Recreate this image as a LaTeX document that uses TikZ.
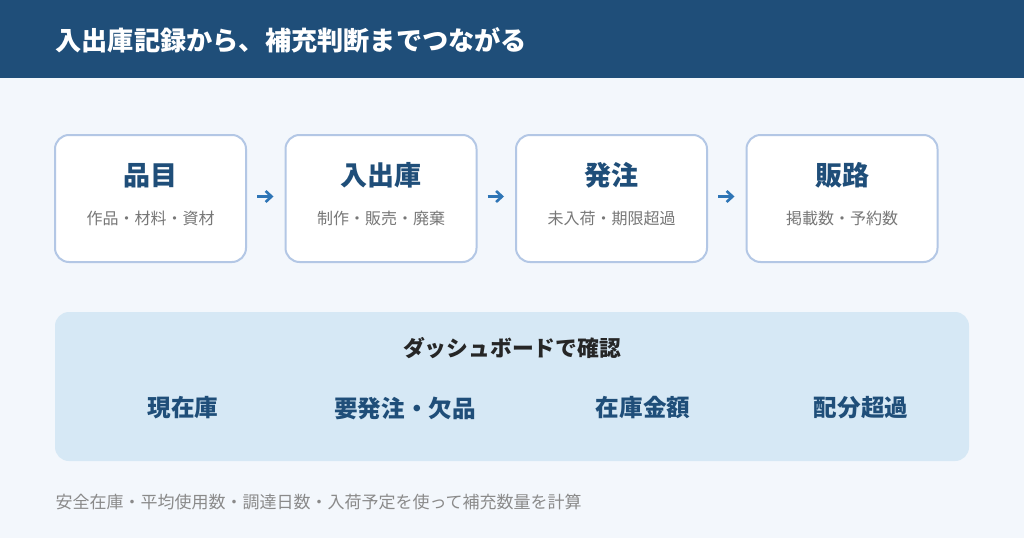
\documentclass[tikz,border=0pt]{standalone}
\usepackage{fontspec}
\setmainfont{Noto Sans CJK JP}
\usepackage{tikz}
\usetikzlibrary{positioning, arrows.meta}
\definecolor{navy}{HTML}{1F4E79}
\definecolor{pagebg}{HTML}{F3F7FC}
\definecolor{edgeblue}{HTML}{B3C7E5}
\definecolor{arrowblue}{HTML}{2E75B6}
\definecolor{dashfill}{HTML}{D6E8F5}
\definecolor{subgray}{HTML}{777777}
\definecolor{notegray}{HTML}{8A8A8A}
\tikzset{
stage/.style={draw=edgeblue, line width=2pt, fill=white, rounded corners=14pt,
  minimum width=191pt, minimum height=127pt, inner sep=0pt},
stagetitle/.style={font=\fontsize{27}{32}\selectfont\bfseries, text=navy},
stagesub/.style={font=\fontsize{16}{19}\selectfont, text=subgray},
flow/.style={-{Straight Barb[length=6pt, width=11pt]}, line width=2.6pt, arrowblue,
  shorten <=10pt, shorten >=11pt},
dashhead/.style={font=\fontsize{21.8}{26}\selectfont\bfseries, text=black!85},
metric/.style={font=\fontsize{23.6}{28}\selectfont\bfseries, text=navy},
note/.style={font=\fontsize{17}{20}\selectfont, text=notegray}
}

\begin{document}
\begin{tikzpicture}[x=1pt, y=-1pt, node distance=37.5pt]
	\useasboundingbox[fill=pagebg] (0,0) rectangle (1024,538);
	% ---- header
	\fill[navy] (0,0) rectangle (1024,78);
	\node[anchor=west, text=white, font=\fontsize{26.2}{31}\selectfont\bfseries] (title) at (52,40) {入出庫記録から、補充判断までつながる};
	% ---- stages
	\node[stage] (item) at (150.5,198.5) {};
	\node[stage, right = of item] (stock) {};
	\node[stage, right = of stock] (order) {};
	\node[stage, right = of order] (sales) {};
	\node[stagetitle] (itemT) at ([yshift=23pt]item.center) {品目};
	\node[stagesub] (itemS) at ([yshift=-20pt]item.center) {作品・材料・資材};
	\node[stagetitle] (stockT) at ([yshift=23pt]stock.center) {入出庫};
	\node[stagesub] (stockS) at ([yshift=-20pt]stock.center) {制作・販売・廃棄};
	\node[stagetitle] (orderT) at ([yshift=23pt]order.center) {発注};
	\node[stagesub] (orderS) at ([yshift=-20pt]order.center) {未入荷・期限超過};
	\node[stagetitle] (salesT) at ([yshift=23pt]sales.center) {販路};
	\node[stagesub] (salesS) at ([yshift=-20pt]sales.center) {掲載数・予約数};
	% ---- arrows
	\draw[flow] ([yshift=2pt]item.east) -- ([yshift=2pt]stock.west);
	\draw[flow] ([yshift=2pt]stock.east) -- ([yshift=2pt]order.west);
	\draw[flow] ([yshift=2pt]order.east) -- ([yshift=2pt]sales.west);
	% ---- dashboard
	\node[fill=dashfill, rounded corners=14pt, minimum width=914pt, minimum height=149pt, inner sep=0pt] (dash) at (512,386.5) {};
	\node[dashhead] (dashT) at (512,348) {ダッシュボードで確認};
	\node[metric] (onhand) at (183,408) {現在庫};
	\node[metric] (shortage) at (405,408) {要発注・欠品};
	\node[metric] (value) at (643,408) {在庫金額};
	\node[metric] (excess) at (861,408) {配分超過};
	% ---- footnote
	\node[note, anchor=west] (foot) at (52,502) {安全在庫・平均使用数・調達日数・入荷予定を使って補充数量を計算};
\end{tikzpicture}
\end{document}
